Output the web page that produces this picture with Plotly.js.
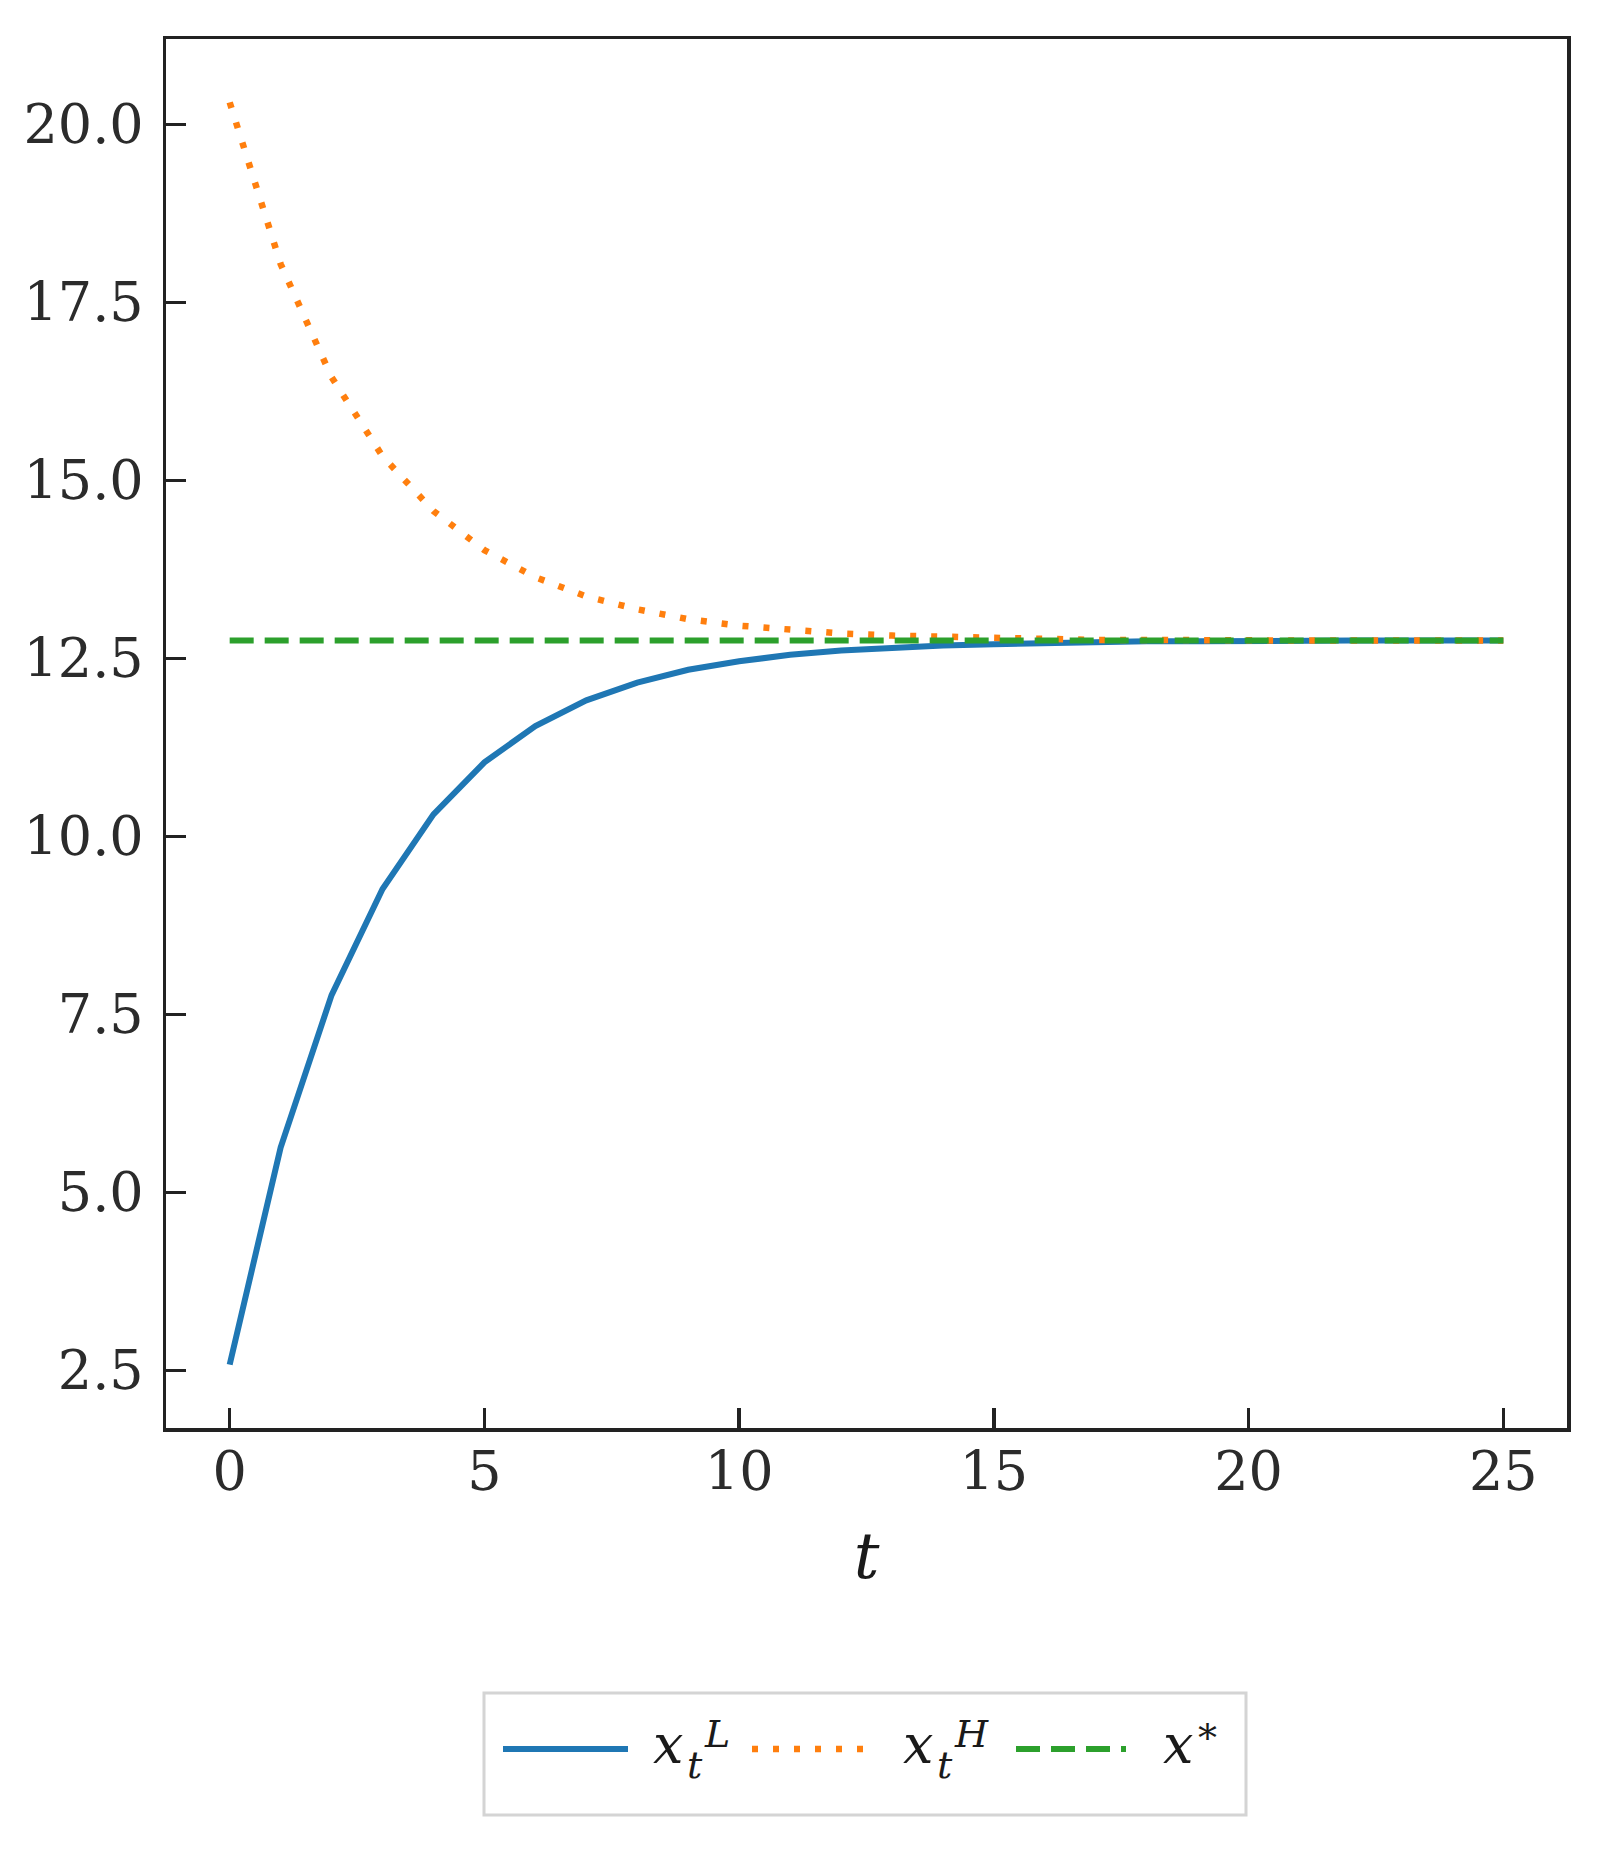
<!DOCTYPE html>
<html>
<head>
<meta charset="utf-8">
<script src="https://cdn.plot.ly/plotly-3.0.1.min.js"></script>
<style>
  html, body { margin: 0; padding: 0; background: #ffffff; }
  #chart { width: 1597px; height: 1852px; }
</style>
</head>
<body>
<div id="chart"></div>
<script>
// ---- data ----
const tValues = [0, 1, 2, 3, 4, 5, 6, 7, 8, 9, 10, 11, 12, 13, 14, 15, 16, 17, 18, 19, 20, 21, 22, 23, 24, 25];
const xLow  = [2.58, 5.63, 7.77, 9.26, 10.31, 11.04, 11.55, 11.91, 12.16, 12.34, 12.46, 12.55, 12.61, 12.65, 12.68, 12.70, 12.72, 12.73, 12.74, 12.74, 12.75, 12.75, 12.75, 12.75, 12.75, 12.75];
const xHigh = [20.31, 18.04, 16.45, 15.34, 14.57, 14.02, 13.64, 13.37, 13.19, 13.05, 12.96, 12.90, 12.85, 12.82, 12.80, 12.78, 12.77, 12.76, 12.76, 12.75, 12.75, 12.75, 12.75, 12.75, 12.75, 12.75];
const xStarT = [0, 25];
const xStarY = [12.75, 12.75];
const xTickVals = [0, 5, 10, 15, 20, 25];
const yTickVals = [2.5, 5.0, 7.5, 10.0, 12.5, 15.0, 17.5, 20.0];
// legend label pieces: base, subscript, superscript
const legendBase = ['x', 'x', 'x'];
const legendSub  = ['t', 't', ''];
const legendSup  = ['L', 'H', '*'];

// ---- styling ----
const FONT = 'DejaVu Serif';
const BLUE = '#1f77b4', ORANGE = '#ff7f0e', GREEN = '#2ca02c';
const W = 1597, H = 1852;
const PL = 166, PR = 1567, PT = 39, PB = 1428;
const px = x => (x - PL) / (PR - PL);
const py = y => (PB - y) / (PB - PT);

const traces = [
  { x: tValues, y: xLow, type: 'scatter', mode: 'lines', name: 'xL',
    line: { color: BLUE, width: 6 }, showlegend: false },
  { x: tValues, y: xHigh, type: 'scatter', mode: 'lines', name: 'xH',
    line: { color: ORANGE, width: 6.5, dash: '6px,15px' }, showlegend: false },
  { x: xStarT, y: xStarY, type: 'scatter', mode: 'lines', name: 'x*',
    line: { color: GREEN, width: 6, dash: '24px,11px' }, showlegend: false }
];

const axisCommon = {
  showgrid: false, zeroline: false,
  showline: true, mirror: true, linecolor: '#222222', linewidth: 3.5,
  ticks: 'inside', ticklen: 20, tickwidth: 3.5, tickcolor: '#222222',
  tickfont: { family: FONT, size: 54, color: '#2b2b2b' }
};

// custom legend (long line samples like the reference)
const legY = 1749;
const shapes = [
  { type: 'rect', xref: 'paper', yref: 'paper', x0: px(484), x1: px(1246), y0: py(1815), y1: py(1693),
    line: { color: '#d4d4d4', width: 3 }, fillcolor: '#ffffff', layer: 'above' },
  { type: 'line', xref: 'paper', yref: 'paper', x0: px(503), x1: px(628), y0: py(legY), y1: py(legY),
    line: { color: BLUE, width: 6 }, layer: 'above' },
  { type: 'line', xref: 'paper', yref: 'paper', x0: px(752), x1: px(874), y0: py(legY), y1: py(legY),
    line: { color: ORANGE, width: 6.5, dash: '6px,15px' }, layer: 'above' },
  { type: 'line', xref: 'paper', yref: 'paper', x0: px(1016), x1: px(1126), y0: py(legY), y1: py(legY),
    line: { color: GREEN, width: 6, dash: '24px,11px' }, layer: 'above' }
];

function txt(text, x, y, size, italic) {
  return { xref: 'paper', yref: 'paper', x: px(x), y: py(y), xanchor: 'left', yanchor: 'middle',
    text: text, showarrow: false, borderpad: 0,
    font: { family: FONT, size: size, color: '#1a1a1a', style: italic ? 'italic' : 'normal' } };
}
// left edges of each legend label (pixels)
const labelLeft = [652, 902, 1162];
const annotations = [];
labelLeft.forEach((x0, i) => {
  annotations.push(txt(legendBase[i], x0, 1744, 54, true));
  let x = x0 + 34;
  if (legendSub[i]) {
    annotations.push(txt(legendSub[i], x, 1765, 38, true));
    x += 17;
  }
  const isStar = legendSup[i] === '*';
  annotations.push(txt(legendSup[i], isStar ? x + 1 : x, isStar ? 1738 : 1734, 38, !isStar));
});

const layout = {
  width: W, height: H,
  paper_bgcolor: '#ffffff', plot_bgcolor: '#ffffff',
  margin: { l: PL, r: W - PR, t: PT, b: H - PB, pad: 0 },
  showlegend: false,
  xaxis: Object.assign({}, axisCommon, {
    range: [-1.25, 26.25], tickvals: xTickVals, ticktext: xTickVals.map(String),
    ticklabelstandoff: -6,
    title: { text: 't', font: { family: FONT, size: 64, color: '#1a1a1a', style: 'italic' }, standoff: 32 },
    automargin: false
  }),
  yaxis: Object.assign({}, axisCommon, {
    range: [1.69, 21.2], tickvals: yTickVals, tickformat: '.1f',
    ticklabelstandoff: 8,
    automargin: false
  }),
  shapes: shapes,
  annotations: annotations
};

Plotly.newPlot('chart', traces, layout, { displayModeBar: false, staticPlot: true });
</script>
</body>
</html>
